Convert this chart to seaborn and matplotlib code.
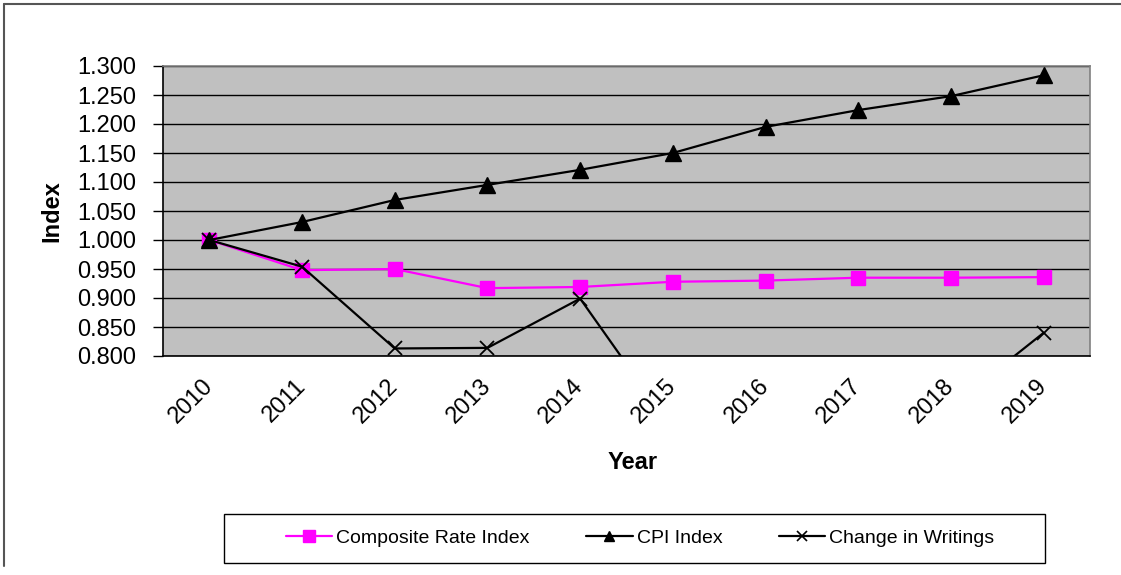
import matplotlib
matplotlib.use("Agg")
import matplotlib.pyplot as plt
from matplotlib.lines import Line2D
from matplotlib.patches import Rectangle
import seaborn as sns
import pandas as pd

years = ["2010", "2011", "2012", "2013", "2014", "2015", "2016", "2017", "2018", "2019"]
composite_rate = [1.000, 0.948, 0.950, 0.917, 0.919, 0.928, 0.930, 0.935, 0.935, 0.936]
cpi_index = [1.000, 1.031, 1.069, 1.095, 1.121, 1.150, 1.195, 1.224, 1.248, 1.284]
change_writings = [1.000, 0.954, 0.813, 0.814, 0.899, 0.673, 0.690, 0.700, 0.713, 0.840]
y_ticks = [0.80, 0.85, 0.90, 0.95, 1.00, 1.05, 1.10, 1.15, 1.20, 1.25, 1.30]

series_names = ["Composite Rate Index", "CPI Index", "Change in Writings"]
series_values = [composite_rate, cpi_index, change_writings]

rows = []
for name, vals in zip(series_names, series_values):
    for i, (yr, v) in enumerate(zip(years, vals)):
        rows.append({"pos": i, "year": yr, "value": v, "series": name})
df = pd.DataFrame(rows)

sns.set_theme(style="white")
plt.rcParams["font.family"] = ["Liberation Sans", "DejaVu Sans"]
plt.rcParams["text.color"] = "black"
plt.rcParams["axes.labelcolor"] = "black"
plt.rcParams["xtick.color"] = "black"
plt.rcParams["ytick.color"] = "black"

W, H = 1121, 575
fig = plt.figure(figsize=(W / 100, H / 100), dpi=100)
ax = fig.add_axes([163 / W, 1 - 356 / H, (1090 - 163) / W, (356 - 66) / H])
ax.set_facecolor("#C0C0C0")

styles = {
    "Composite Rate Index": dict(color="#FF00FF", marker="s", ms=10, mew=1.0),
    "CPI Index": dict(color="black", marker="^", ms=11, mew=1.0),
    "Change in Writings": dict(color="black", marker="x", ms=10, mew=1.3),
}

for name in series_names:
    st = styles[name]
    sns.lineplot(
        data=df[df["series"] == name], x="pos", y="value", ax=ax,
        color=st["color"], marker=st["marker"], markersize=st["ms"],
        markeredgecolor=st["color"], markeredgewidth=st["mew"],
        linewidth=1.6, label=name, legend=False, zorder=3,
    )

ax.set_xlim(-0.5, len(years) - 0.5)
ax.set_ylim(0.8, 1.3)
ax.set_yticks(y_ticks)
ax.set_yticklabels([f"{v:.3f}" for v in y_ticks], fontsize=17)
ax.yaxis.grid(True, color="black", linewidth=1.0)
ax.set_axisbelow(True)

# category labels at centres, tick marks between categories
ax.set_xticks(range(len(years)))
ax.set_xticklabels(years, fontsize=17, rotation=45, ha="right", va="center",
                   rotation_mode="anchor")
ax.set_xticks([i - 0.5 for i in range(len(years) + 1)], minor=True)
ax.tick_params(axis="x", which="major", length=0, pad=19)
ax.tick_params(axis="x", which="minor", length=7, width=1, color="black", direction="out")
ax.tick_params(axis="y", length=7, width=1, color="black", direction="out", pad=12, left=True)

for side in ["left", "bottom"]:
    ax.spines[side].set_color("black")
    ax.spines[side].set_linewidth(1.2)
for side in ["top", "right"]:
    ax.spines[side].set_color("#808080")
    ax.spines[side].set_linewidth(1.2)

ax.set_xlabel("Year", fontsize=17, fontweight="bold")
ax.set_ylabel("Index", fontsize=17, fontweight="bold", labelpad=10)
ax.xaxis.set_label_coords((633 - 163) / (1090 - 163), -(451 - 356) / (356 - 66))

# legend box and entries
fig.add_artist(Rectangle((224 / W, 1 - 563 / H), (1045 - 224) / W, (563 - 514) / H,
                         transform=fig.transFigure, facecolor="white",
                         edgecolor="black", linewidth=1.0, zorder=1))
handles = [
    Line2D([], [], color="#FF00FF", marker="s", ms=8, lw=1.6),
    Line2D([], [], color="black", marker="^", ms=7, lw=1.6),
    Line2D([], [], color="black", marker="x", ms=7, mew=1.2, lw=1.6),
]
leg = fig.legend(
    handles, series_names, ncol=3, fontsize=14, frameon=False,
    loc="center", bbox_to_anchor=(640 / W, 1 - 538 / H),
    handlelength=2.4, columnspacing=2.9, handletextpad=0.2,
)
leg.set_zorder(2)

# outer chart frame
fig.add_artist(Line2D([4 / W, 4 / W], [1 - 566 / H, 1 - 4 / H], transform=fig.transFigure,
                      color="#555555", lw=1.5))
fig.add_artist(Line2D([4 / W, 1.0], [1 - 4 / H, 1 - 4 / H], transform=fig.transFigure,
                      color="#555555", lw=1.5))

fig.savefig("out.png", dpi=100, facecolor="white")
